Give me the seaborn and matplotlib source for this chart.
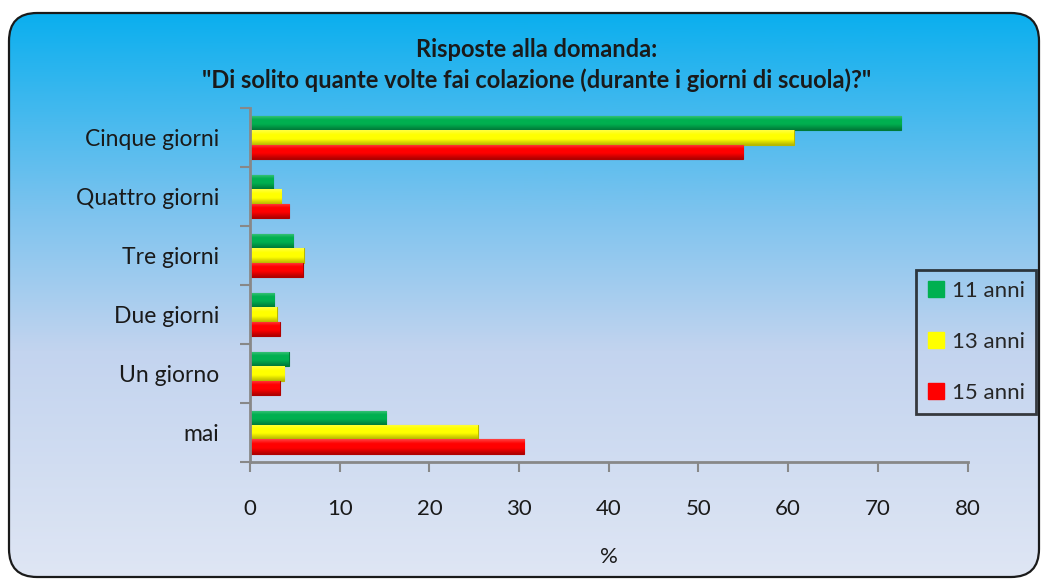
import matplotlib
matplotlib.use("Agg")
import matplotlib.pyplot as plt
import seaborn as sns
import numpy as np
import pandas as pd
from matplotlib.patches import FancyBboxPatch
from matplotlib.colors import LinearSegmentedColormap, to_rgb
from matplotlib.lines import Line2D

categories = ["Cinque giorni", "Quattro giorni", "Tre giorni", "Due giorni", "Un giorno", "mai"]
series_names = ["11 anni", "13 anni", "15 anni"]
vals_11 = [72.6, 2.6, 4.8, 2.7, 4.3, 15.2]
vals_13 = [60.6, 3.5, 6.0, 3.0, 3.8, 25.4]
vals_15 = [55.0, 4.4, 5.9, 3.3, 3.3, 30.6]
colors = ["#00b050", "#ffff00", "#ff0000"]
edge_colors = ["#007a38", "#b8b800", "#b00000"]
x_ticks = [0, 10, 20, 30, 40, 50, 60, 70, 80]

df = pd.DataFrame({
    "cat": categories * 3,
    "val": vals_11 + vals_13 + vals_15,
    "serie": [s for s in series_names for _ in categories],
})

sns.set_theme(style="white")
plt.rcParams["font.family"] = ["Lato", "DejaVu Sans"]

fig = plt.figure(figsize=(10.46, 5.81), dpi=100)
fig.patch.set_facecolor("white")

# background gradient panel with rounded corners
bg = fig.add_axes([0, 0, 1, 1], zorder=-10)
bg.set_xlim(0, 1046)
bg.set_ylim(581, 0)
bg.axis("off")
cmap = LinearSegmentedColormap.from_list("bg", [(0, "#0aafee"), (0.35, "#7cc3ee"), (0.6, "#c3d4ef"), (1, "#dfe6f4")])
grad = np.linspace(0, 1, 256).reshape(-1, 1)
im = bg.imshow(grad, cmap=cmap, aspect="auto", extent=(8, 1040, 578, 12), zorder=0)
box = FancyBboxPatch((9, 13), 1030, 564, boxstyle="round,pad=0,rounding_size=28",
                     facecolor="none", edgecolor="#1a1a1a", linewidth=1.6, zorder=2)
bg.add_patch(box)
im.set_clip_path(box)

ax = fig.add_axes([0.239, 0.205, 0.686, 0.609])
ax.patch.set_alpha(0)
sns.barplot(data=df, y="cat", x="val", hue="serie", order=categories, hue_order=series_names,
            palette=colors, orient="h", width=0.72, gap=0.0, ax=ax, legend=False, saturation=1)

ax.set_xlim(0, 80)
ax.set_ylim(5.5, -0.5)

# cylinder-like shading on each bar drawn by seaborn
for bars, c, ec in zip(ax.containers, colors, edge_colors):
    base = np.array(to_rgb(c))
    dark = np.array(to_rgb(ec))
    t = np.linspace(0, 1, 32)
    shade = []
    for v in t:
        if v < 0.3:
            col = base + (1 - base) * 0.25 * (1 - v / 0.3)
        elif v < 0.6:
            col = base
        else:
            col = base + (dark - base) * ((v - 0.6) / 0.4)
        shade.append(col)
    shade = np.clip(np.array(shade), 0, 1).reshape(-1, 1, 3)
    for b in bars:
        b.set_edgecolor(ec)
        b.set_linewidth(0.8)
        x0, y0, w, h = b.get_x(), b.get_y(), b.get_width(), b.get_height()
        img = ax.imshow(shade, aspect="auto", extent=(x0, x0 + w, y0 + h, y0),
                        interpolation="bilinear", zorder=b.get_zorder() + 0.1)
        img.set_clip_path(b)
ax.set_xlim(0, 80)
ax.set_ylim(5.5, -0.5)
ax.set_aspect("auto")

ax.set_xticks(x_ticks)
ax.set_xticklabels([str(t) for t in x_ticks], fontsize=16, color="#1a1a1a")
ax.set_yticks(range(len(categories)))
ax.set_yticklabels(categories, fontsize=16.5, color="#1a1a1a")
ax.set_yticks(np.arange(-0.5, 6.0, 1.0), minor=True)
ax.tick_params(axis="y", which="major", left=False, length=0, pad=22)
ax.tick_params(axis="y", which="minor", left=True, length=7, color="#888888", width=1.5, direction="out")
ax.tick_params(axis="x", which="major", bottom=True, length=7, color="#888888", width=1.5, direction="out", pad=20)
for s in ["top", "right"]:
    ax.spines[s].set_visible(False)
for s in ["left", "bottom"]:
    ax.spines[s].set_color("#888888")
    ax.spines[s].set_linewidth(2)
ax.set_xlabel("%", fontsize=16, labelpad=20, color="#1a1a1a")
ax.set_ylabel("")

fig.text(0.513, 0.888, "Risposte alla domanda:\n\"Di solito quante volte fai colazione (durante i giorni di scuola)?\"",
         ha="center", va="center", fontsize=17, fontweight="bold", color="#1a1a1a", linespacing=1.4)

handles = [Line2D([0], [0], marker="s", linestyle="none", markersize=11,
                  markerfacecolor=c, markeredgecolor=c) for c in colors]
leg = fig.legend(handles, series_names, loc="upper left", bbox_to_anchor=(0.876, 0.536),
                 frameon=True, fontsize=16, handletextpad=0.3, labelspacing=1.4,
                 borderpad=0.5, borderaxespad=0, handlelength=0.8, fancybox=False)
leg.get_frame().set_edgecolor("#111111")
leg.get_frame().set_linewidth(2)
leg.get_frame().set_facecolor("none")

fig.savefig("out.png", dpi=100)
